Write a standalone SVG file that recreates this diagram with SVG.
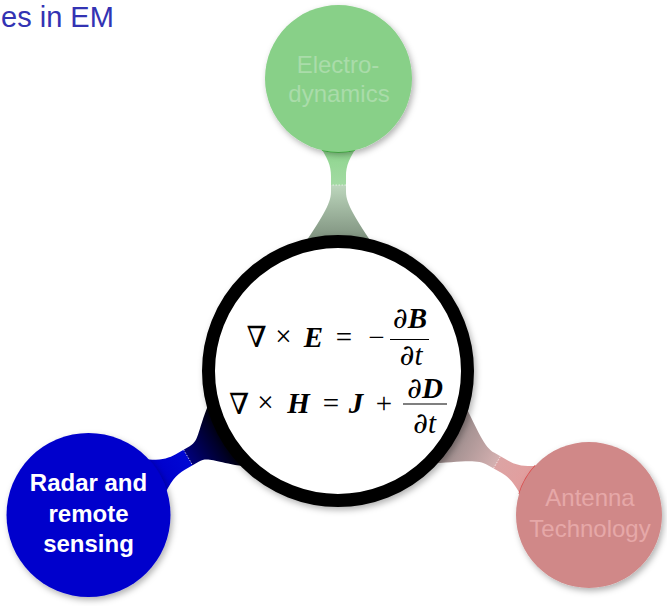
<svg xmlns="http://www.w3.org/2000/svg" width="667" height="606" viewBox="0 0 667 606">
<style>
.sans{font-family:"Liberation Sans","DejaVu Sans",sans-serif;}
.nt{font-size:24px;text-anchor:middle;}
.m{font-family:"Liberation Serif","DejaVu Serif",serif;font-size:29px;text-anchor:middle;fill:#000;}
.sym{font-family:"DejaVu Serif","Liberation Serif",serif;}
.bi{font-weight:bold;font-style:italic;}
.it{font-style:italic;}
.bar{stroke:#000;stroke-width:1.2;}
.neck{stroke:#fff;stroke-width:0.8;stroke-dasharray:1.5 1.5;opacity:0.8;}
</style>
<defs>
<filter id="sh" x="-20%" y="-20%" width="150%" height="150%">
<feDropShadow dx="2" dy="3" stdDeviation="3" flood-color="#000" flood-opacity="0.3"/>
</filter>
<linearGradient id="gG" gradientUnits="userSpaceOnUse" x1="73.5" y1="0" x2="166.5" y2="0">
<stop offset="0" stop-color="#8fd68f"/><stop offset="0.355" stop-color="#a3daa3"/>
<stop offset="0.36" stop-color="#bcd6bc"/><stop offset="1" stop-color="#788a78"/>
</linearGradient>
<linearGradient id="gB" gradientUnits="userSpaceOnUse" x1="82" y1="0" x2="162" y2="0">
<stop offset="0" stop-color="#0000cc"/><stop offset="0.41" stop-color="#0008d4"/>
<stop offset="0.415" stop-color="#00007a"/><stop offset="1" stop-color="#000000"/>
</linearGradient>
<linearGradient id="gR" gradientUnits="userSpaceOnUse" x1="73" y1="0" x2="163" y2="0">
<stop offset="0" stop-color="#e29e9e"/><stop offset="0.367" stop-color="#dca4a4"/>
<stop offset="0.372" stop-color="#d4b0b0"/><stop offset="1" stop-color="#928686"/>
</linearGradient>
</defs>

<text class="sans" x="1" y="27" font-size="29" fill="#3333b3">es in EM</text>

<g id="connectors">
<g transform="translate(338.5,78.5) rotate(90)">
<path fill="url(#gG)" d="M63.5,-21.5 C79.5,-10.5 87.5,-7.5 97.5,-7.5 L113.5,-7.5 C125.5,-7.5 140.5,-17.5 170.5,-37.5 L170.5,37.5 C140.5,17.5 125.5,7.5 113.5,7.5 L97.5,7.5 C87.5,7.5 79.5,10.5 63.5,21.5 Z"/>
<line class="neck" x1="106.5" y1="-7.5" x2="106.5" y2="7.5"/>
<path d="M71.6,-16.5 A73.5,73.5 0 0 1 71.6,16.5" fill="none" stroke="#44cc44" stroke-width="1.5"/>
</g>
<g transform="translate(88.5,515) rotate(-30)">
<path fill="url(#gB)" d="M72,-23 C88,-12 96,-9 106,-9 L122,-9 C134,-9 136,-19 166,-41 L166,41 C136,19 134,9 122,9 L106,9 C96,9 88,12 72,23 Z"/>
<line class="neck" x1="115" y1="-9" x2="115" y2="9"/>
</g>
<g transform="translate(589,515) rotate(-150.2)">
<path fill="url(#gR)" d="M63,-21 C79,-10 87,-7 97,-7 L113,-7 C125,-7 137,-17 167,-37 L167,37 C137,17 125,7 113,7 L97,7 C87,7 79,10 63,21 Z"/>
<line class="neck" x1="106" y1="-7" x2="106" y2="7"/>
<path d="M71.1,-16.4 A73,73 0 0 1 71.1,16.4" fill="none" stroke="#e04848" stroke-width="1.5"/>
</g>
</g>

<g id="electrodynamics">
<circle cx="338.5" cy="78.5" r="73.5" fill="#88d088" filter="url(#sh)"/>
<text class="sans nt" x="338" y="73" fill="#aadcaa">Electro-</text>
<text class="sans nt" x="339" y="102" fill="#aadcaa">dynamics</text>
</g>

<g id="radar">
<circle cx="88.5" cy="515" r="82" fill="#0000cc" filter="url(#sh)"/>
<text class="sans nt" x="88.5" y="491" font-size="23" font-weight="bold" fill="#fff">Radar and</text>
<text class="sans nt" x="88.5" y="522" font-size="23" font-weight="bold" fill="#fff">remote</text>
<text class="sans nt" x="88.5" y="552" font-size="23" font-weight="bold" fill="#fff">sensing</text>
</g>

<g id="antenna">
<circle cx="589" cy="515" r="73" fill="#d08888" filter="url(#sh)"/>
<text class="sans nt" x="590" y="506" fill="#e6a8a8">Antenna</text>
<text class="sans nt" x="590" y="537" fill="#e6a8a8">Technology</text>
</g>

<g id="maxwell">
<circle cx="338" cy="371" r="129.5" fill="#fff" stroke="#000" stroke-width="13" filter="url(#sh)"/>
<text class="m sym" x="256.5" y="347" font-size="30">∇</text>
<text class="m" x="283.5" y="346">×</text>
<text class="m bi" x="313.5" y="347">E</text>
<text class="m" x="344" y="347">=</text>
<text class="m" x="376.5" y="347">−</text>
<text class="m" x="410" y="328"><tspan class="sym it">∂</tspan><tspan class="bi">B</tspan></text>
<line class="bar" x1="390" y1="339.5" x2="429" y2="339.5"/>
<text class="m" x="411" y="365"><tspan class="sym it">∂</tspan><tspan class="it">t</tspan></text>

<text class="m sym" x="239" y="414" font-size="30">∇</text>
<text class="m" x="265.5" y="412">×</text>
<text class="m bi" x="298.5" y="413">H</text>
<text class="m" x="331" y="413">=</text>
<text class="m bi" x="356" y="413">J</text>
<text class="m" x="384" y="413">+</text>
<text class="m" x="425" y="398"><tspan class="sym it">∂</tspan><tspan class="bi">D</tspan></text>
<line class="bar" x1="403" y1="404" x2="447" y2="404"/>
<text class="m" x="424.5" y="433"><tspan class="sym it">∂</tspan><tspan class="it">t</tspan></text>
</g>
</svg>
